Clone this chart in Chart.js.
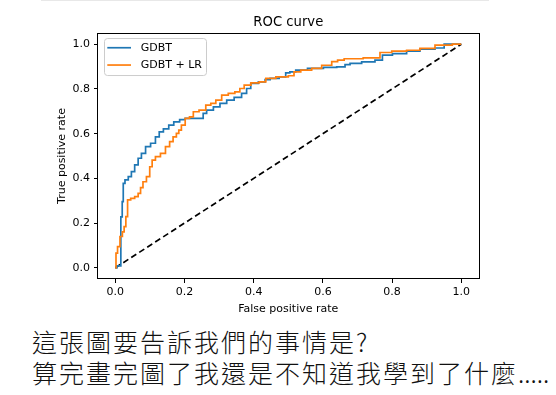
<!DOCTYPE html>
<html><head><meta charset="utf-8">
<script src="https://cdn.jsdelivr.net/npm/chart.js@4.4.1/dist/chart.umd.min.js"></script>
<style>
html,body{margin:0;padding:0;background:#fff;}
#wrap{position:relative;width:556px;height:395px;overflow:hidden;background:#fff;}
#box{position:absolute;left:0;top:0;width:556px;height:320px;}
#note{position:absolute;left:32px;top:326px;font-family:"Noto Sans CJK TC","Noto Sans CJK SC",sans-serif;font-weight:300;font-size:25px;letter-spacing:2px;line-height:31px;color:#111;white-space:nowrap;}
#note .dots{letter-spacing:0;}
#rule{position:absolute;left:41px;top:0;width:448px;height:1px;background:#e8e8e8;}
</style></head>
<body><div id="wrap"><div id="rule"></div><div id="box"><canvas id="c" width="556" height="320"></canvas></div>
<div id="note">這張圖要告訴我們的事情是?<br>算完畫完圖了我還是不知道我學到了什麼<span class="dots">.....</span></div></div>
<script>
const seriesNames = ['GDBT', 'GDBT + LR'];
const gdbtFpr = [0,0.009,0.016,0.016,0.020,0.020,0.023,0.023,0.033,0.042,0.051,0.061,0.071,0.080,0.095,0.109,0.123,0.131,0.147,0.162,0.176,0.196,0.208,0.254,0.254,0.274,0.293,0.312,0.332,0.355,0.375,0.384,0.399,0.428,0.438,0.457,0.490,0.495,0.514,0.529,0.582,0.621,0.659,0.669,0.688,0.736,0.765,0.779,0.823,0.861,0.900,0.948,0.953,1.0];
const gdbtTpr = [0,0.009,0.009,0.228,0.228,0.296,0.296,0.378,0.393,0.408,0.430,0.460,0.490,0.512,0.542,0.557,0.586,0.608,0.621,0.638,0.653,0.663,0.668,0.668,0.691,0.705,0.720,0.735,0.750,0.762,0.780,0.802,0.825,0.832,0.842,0.847,0.854,0.872,0.876,0.884,0.892,0.896,0.899,0.909,0.914,0.921,0.929,0.951,0.958,0.969,0.978,0.983,1.0,1.0];
const lrFpr = [0,0.004,0.009,0.018,0.023,0.028,0.033,0.038,0.051,0.061,0.071,0.075,0.085,0.095,0.104,0.109,0.123,0.138,0.152,0.162,0.172,0.181,0.186,0.196,0.208,0.221,0.230,0.254,0.269,0.283,0.298,0.317,0.336,0.355,0.365,0.380,0.404,0.428,0.442,0.486,0.514,0.519,0.553,0.582,0.611,0.640,0.645,0.678,0.755,0.775,0.823,0.861,0.900,0.948,1.0];
const lrTpr = [0,0.066,0.095,0.140,0.161,0.184,0.229,0.304,0.311,0.318,0.333,0.359,0.385,0.408,0.452,0.482,0.497,0.512,0.542,0.564,0.586,0.601,0.616,0.638,0.668,0.675,0.698,0.705,0.728,0.735,0.750,0.772,0.780,0.787,0.802,0.817,0.827,0.832,0.847,0.854,0.859,0.876,0.884,0.892,0.906,0.922,0.929,0.935,0.939,0.963,0.969,0.973,0.981,0.996,1.0];
const diagX = [0, 1];
const diagY = [0, 1];
const xTicks = [0, 0.2, 0.4, 0.6, 0.8, 1.0];
const yTicks = [0, 0.2, 0.4, 0.6, 0.8, 1.0];

const toPts = (xs, ys) => xs.map((x, i) => ({x: x, y: ys[i]}));
const FONT = 'DejaVu Sans';

const framePlugin = {
  id: 'frame',
  afterDatasetsDraw(chart) {
    const {ctx, chartArea: a} = chart;
    ctx.save();
    ctx.strokeStyle = '#000';
    ctx.lineWidth = 1;
    ctx.strokeRect(Math.round(a.left) - 0.5, Math.round(a.top) + 0.5, Math.round(a.right) - Math.round(a.left) + 1, Math.round(a.bottom) - Math.round(a.top) - 1);
    ctx.restore();
  }
};

const legendPlugin = {
  id: 'roclegend',
  afterDraw(chart) {
    const {ctx, chartArea: a} = chart;
    const x0 = a.left + 6.5, y0 = a.top + 5.5, w = 102, h = 37;
    ctx.save();
    ctx.beginPath();
    ctx.roundRect(x0, y0, w, h, 3);
    ctx.fillStyle = 'rgba(255,255,255,0.8)';
    ctx.fill();
    ctx.strokeStyle = '#cccccc';
    ctx.lineWidth = 1;
    ctx.stroke();
    const items = chart.data.datasets.filter(d => d.label);
    items.forEach((d, i) => {
      const y = y0 + 9.2 + i * 17.3;
      ctx.beginPath();
      ctx.moveTo(x0 + 2.8, y);
      ctx.lineTo(x0 + 26.5, y);
      ctx.strokeStyle = d.borderColor;
      ctx.lineWidth = 1.7;
      ctx.stroke();
      ctx.fillStyle = '#000';
      ctx.font = '11px "' + FONT + '"';
      ctx.textBaseline = 'middle';
      ctx.textAlign = 'left';
      ctx.fillText(d.label, x0 + 36.2, y + 0.5);
    });
    ctx.restore();
  }
};

new Chart(document.getElementById('c').getContext('2d'), {
  type: 'scatter',
  data: {
    datasets: [
      {label: seriesNames[0], data: toPts(gdbtFpr, gdbtTpr), showLine: true, borderColor: '#1f77b4', backgroundColor: '#1f77b4', borderWidth: 1.7, pointRadius: 0, stepped: 'middle', order: 1},
      {label: seriesNames[1], data: toPts(lrFpr, lrTpr), showLine: true, borderColor: '#ff7f0e', backgroundColor: '#ff7f0e', borderWidth: 1.7, pointRadius: 0, stepped: 'middle', order: 0},
      {label: '', data: toPts(diagX, diagY), showLine: true, borderColor: '#000', borderWidth: 1.7, borderDash: [6, 3.5], pointRadius: 0, order: 2}
    ]
  },
  options: {
    responsive: false,
    animation: false,
    layout: {padding: {left: 49, right: 77.4, top: 0, bottom: 0}},
    plugins: {
      legend: {display: false},
      tooltip: {enabled: false},
      title: {display: true, text: 'ROC curve', fullSize: false, color: '#000', font: {family: FONT, size: 13.2, weight: 'normal'}, padding: {top: 14.6, bottom: 2.6}}
    },
    scales: {
      x: {
        type: 'linear', min: -0.05, max: 1.05,
        afterBuildTicks: s => { s.ticks = xTicks.map(v => ({value: v})); },
        afterFit: s => { s.height = 41; },
        ticks: {color: '#000', font: {family: FONT, size: 11}, padding: 3, maxRotation: 0, autoSkip: false, callback: v => Number(v).toFixed(1)},
        grid: {display: true, drawOnChartArea: false, drawTicks: true, tickLength: 4, color: '#000', lineWidth: 1},
        border: {display: false},
        title: {display: true, text: 'False positive rate', color: '#000', font: {family: FONT, size: 11}, padding: {top: 0, bottom: 4.4}}
      },
      y: {
        type: 'linear', min: -0.05, max: 1.05,
        afterBuildTicks: s => { s.ticks = yTicks.map(v => ({value: v})); },
        afterFit: s => { s.width = 49; },
        ticks: {color: '#000', font: {family: FONT, size: 11}, padding: 4, autoSkip: false, callback: v => Number(v).toFixed(1)},
        grid: {display: true, drawOnChartArea: false, drawTicks: true, tickLength: 4, color: '#000', lineWidth: 1},
        border: {display: false},
        title: {display: true, text: 'True positive rate', color: '#000', font: {family: FONT, size: 11}, padding: {top: 6.4, bottom: 0}}
      }
    }
  },
  plugins: [framePlugin, legendPlugin]
});
</script>
</body></html>
